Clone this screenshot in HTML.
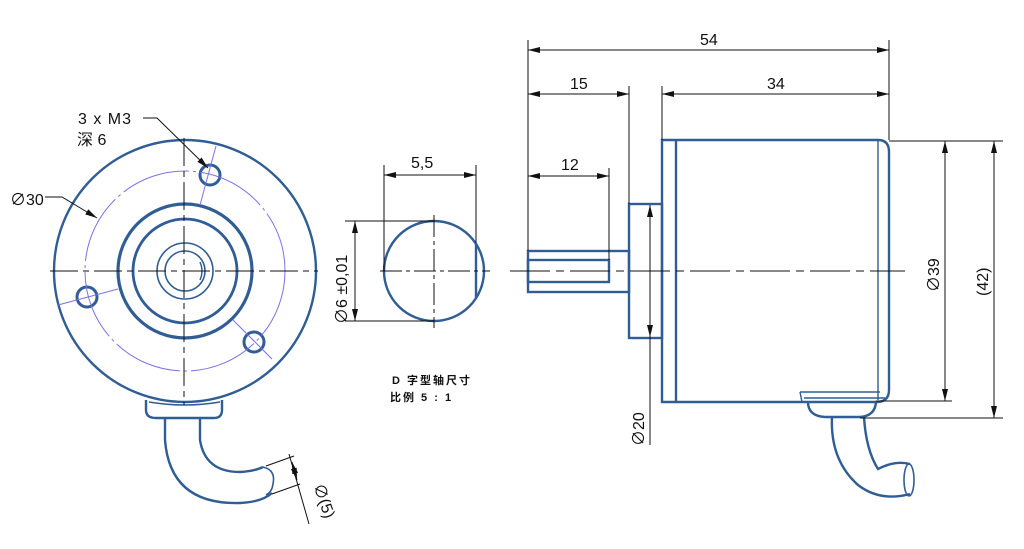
<!DOCTYPE html>
<html><head><meta charset="utf-8"><style>
html,body{margin:0;padding:0;background:#fff;}
svg{display:block;}
text{font-family:"Liberation Sans","Noto Sans CJK SC",sans-serif;fill:#111;}
</style></head><body>
<svg width="1024" height="549" viewBox="0 0 1024 549" xmlns="http://www.w3.org/2000/svg">
<defs>
<marker id="a" viewBox="0 0 12 6" refX="12" refY="3" markerWidth="12" markerHeight="6" orient="auto-start-reverse" markerUnits="userSpaceOnUse"><path d="M0,0L12,3L0,6z" fill="#111"/></marker>
</defs>
<g fill="none" stroke="#2f5d94" stroke-width="2.4">
<circle cx="185" cy="271" r="131"/>
<circle cx="185" cy="271" r="67" stroke-width="3.2"/>
<circle cx="185" cy="271" r="52" stroke-width="2.8"/>
<circle cx="185" cy="271" r="28" stroke-width="1.6"/>
<circle cx="185" cy="271" r="20" stroke-width="1.6"/>
<path d="M200,262 Q204,271 200,280" stroke-width="1.4"/>
<circle cx="210" cy="175" r="10" stroke-width="3"/>
<circle cx="87" cy="297" r="10" stroke-width="3"/>
<circle cx="254" cy="342" r="10" stroke-width="3"/>
<path d="M146,400 L146,410 Q146,418 156,418 L214,418 Q222,418 222,410 L222,400"/>
<path d="M149,402 Q185,408 220,402" stroke-width="1.6"/>
<path d="M165,418 L165,440 Q170,505 240,503 Q262,502 272,493"/>
<path d="M200,418 L200,440 Q205,472 240,472 Q255,471 263,467"/>
<path d="M263,467 Q276,470 273,484 Q272,492 266,495" stroke-width="1.6"/>
<circle cx="434" cy="271" r="50"/>
<line x1="476" y1="243" x2="476" y2="298"/>
<rect x="528" y="251" width="101" height="41"/>
<rect x="528" y="260" width="81" height="22"/>
<rect x="629" y="204" width="33" height="134"/>
<path d="M662,140 L878,140 Q889,140 889,152 L889,390 Q889,402 876,402 L662,402 Z"/>
<line x1="676" y1="140" x2="676" y2="402"/>
<line x1="878" y1="140" x2="878" y2="400" stroke-width="1.4"/>
<path d="M800,392 L880,392 M800,392 L802,402 M804,398 L885,398" stroke-width="1.4"/>
<path d="M808,402 Q808,416 825,417 L860,417 Q875,416 876,402"/>
<path d="M832,417 Q830,460 858,485 Q880,502 910,494"/>
<path d="M864,417 Q866,450 878,469 Q895,460 910,464"/>
<ellipse cx="909" cy="480" rx="5" ry="16" stroke-width="1.6"/>
</g>
<g fill="none" stroke="#7a72e6" stroke-width="1">
<circle cx="185" cy="271" r="100" stroke-dasharray="70 4 3 4"/>
<line x1="216" y1="146" x2="200" y2="205"/>
<line x1="58" y1="305" x2="118" y2="289"/>
<line x1="233" y1="320" x2="272" y2="359"/>
</g>
<g stroke="#111" stroke-width="1" fill="none">
<line x1="50" y1="271" x2="318" y2="271" stroke-dasharray="28 5 6 5"/>
<line x1="184" y1="138" x2="184" y2="405" stroke-dasharray="28 5 6 5"/>
<line x1="380" y1="271" x2="490" y2="271" stroke-dasharray="22 4 4 4"/>
<line x1="434" y1="215" x2="434" y2="328" stroke-dasharray="22 4 4 4"/>
<line x1="510" y1="271" x2="905" y2="271" stroke-dasharray="40 6 8 6"/>
</g>
<g stroke="#111" stroke-width="1" fill="none">
<path d="M143,118 L157,118 L208,168" marker-end="url(#a)"/>
<path d="M45,197 L62,197 L97,218" marker-end="url(#a)"/>
<line x1="266" y1="466" x2="294" y2="456"/>
<line x1="272" y1="494" x2="300" y2="484"/>
<line x1="289" y1="454" x2="309" y2="524"/>
<line x1="292" y1="462" x2="297" y2="480" marker-start="url(#a)" marker-end="url(#a)"/>
<line x1="384" y1="165" x2="384" y2="271"/>
<line x1="476" y1="165" x2="476" y2="243"/>
<line x1="384" y1="175" x2="476" y2="175" marker-start="url(#a)" marker-end="url(#a)"/>
<line x1="345" y1="221" x2="434" y2="221"/>
<line x1="345" y1="321" x2="434" y2="321"/>
<line x1="355" y1="221" x2="355" y2="321" marker-start="url(#a)" marker-end="url(#a)"/>
<line x1="528" y1="40" x2="528" y2="251"/>
<line x1="889" y1="40" x2="889" y2="140"/>
<line x1="629" y1="86" x2="629" y2="204"/>
<line x1="662" y1="86" x2="662" y2="140"/>
<line x1="609" y1="168" x2="609" y2="260"/>
<line x1="528" y1="50" x2="889" y2="50" marker-start="url(#a)" marker-end="url(#a)"/>
<line x1="528" y1="94" x2="629" y2="94" marker-start="url(#a)" marker-end="url(#a)"/>
<line x1="662" y1="94" x2="889" y2="94" marker-start="url(#a)" marker-end="url(#a)"/>
<line x1="528" y1="176" x2="609" y2="176" marker-start="url(#a)" marker-end="url(#a)"/>
<line x1="650" y1="205" x2="650" y2="337" marker-start="url(#a)" marker-end="url(#a)"/>
<line x1="650" y1="337" x2="650" y2="445"/>
<line x1="889" y1="141" x2="1003" y2="141"/>
<line x1="876" y1="401" x2="952" y2="401"/>
<line x1="860" y1="418" x2="1003" y2="418"/>
<line x1="945" y1="141" x2="945" y2="401" marker-start="url(#a)" marker-end="url(#a)"/>
<line x1="994" y1="141" x2="994" y2="418" marker-start="url(#a)" marker-end="url(#a)"/>
</g>
<g font-size="16">
<text x="78" y="124" letter-spacing="1">3 x M3</text>
<text x="77" y="145">深 6</text>
<text x="10" y="205">∅30</text>
<text x="411" y="168">5,5</text>
<text x="700" y="45">54</text>
<text x="570" y="89">15</text>
<text x="767" y="89">34</text>
<text x="561" y="170">12</text>
<text transform="translate(347,324) rotate(-90)">∅6 ±0,01</text>
<text transform="translate(644,446) rotate(-90)">∅20</text>
<text transform="translate(939,292) rotate(-90)">∅39</text>
<text transform="translate(988,296) rotate(-90)">(42)</text>
<text transform="translate(313,486) rotate(70)">∅(5)</text>
</g>
<g font-size="11" font-weight="bold" letter-spacing="2">
<text x="392" y="384">D 字型轴尺寸</text>
<text x="390" y="401">比例 5 : 1</text>
</g>
</svg>
</body></html>
